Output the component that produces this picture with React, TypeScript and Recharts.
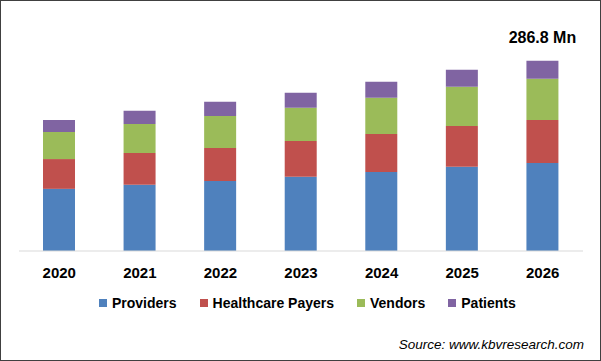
import { BarChart, Bar, XAxis, YAxis, LabelList } from "recharts";

const years = ["2020", "2021", "2022", "2023", "2024", "2025", "2026"];
const providers = [93.7, 99.8, 105.4, 111.9, 119.0, 127.0, 132.6];
const payers = [44.9, 47.9, 49.9, 54.0, 57.5, 61.5, 65.0];
const vendors = [40.8, 43.9, 48.4, 49.9, 54.4, 59.0, 62.0];
const patients = [18.1, 19.7, 21.2, 22.7, 24.2, 25.7, 27.2];
const totalLabel = "286.8 Mn";

const series = [
  { key: "providers", name: "Providers", color: "#4f81bd" },
  { key: "payers", name: "Healthcare Payers", color: "#c0504d" },
  { key: "vendors", name: "Vendors", color: "#9bbb59" },
  { key: "patients", name: "Patients", color: "#8064a2" },
];

const data = years.map((year, i) => ({
  year,
  providers: providers[i],
  payers: payers[i],
  vendors: vendors[i],
  patients: patients[i],
}));

const FONT = "'Liberation Sans', Arial, sans-serif";

function TotalLabel(props: any) {
  const { x, y, width, index } = props;
  if (index !== years.length - 1) return null;
  return (
    <text
      x={x + width / 2}
      y={y - 18}
      textAnchor="middle"
      fontFamily={FONT}
      fontWeight="bold"
      fontSize={16}
      fill="#000"
    >
      {totalLabel}
    </text>
  );
}

export default function App() {
  return (
    <div
      style={{
        position: "absolute",
        left: 0,
        top: 0,
        width: 601,
        height: 361,
        background: "#fff",
        border: "1px solid #404040",
        boxSizing: "border-box",
        fontFamily: FONT,
      }}
    >
      <div style={{ position: "absolute", left: -1, top: -1 }}>
        <BarChart
          width={601}
          height={361}
          data={data}
          margin={{ top: 52, right: 18, bottom: 80, left: 19 }}
          barSize={32}
        >
          <YAxis hide domain={[0, 300]} />
          <XAxis
            dataKey="year"
            height={30}
            tickLine={false}
            tickSize={0}
            tickMargin={16}
            axisLine={{ stroke: "#d9d9d9" }}
            tick={{ fill: "#000", fontSize: 15, fontWeight: "bold", fontFamily: FONT }}
            interval={0}
          />
          {series.map((s) => (
            <Bar
              key={s.key}
              dataKey={s.key}
              name={s.name}
              stackId="a"
              fill={s.color}
              isAnimationActive={false}
            >
              {s.key === "patients" && <LabelList content={TotalLabel} />}
            </Bar>
          ))}
        </BarChart>
      </div>
      <div
        style={{
          position: "absolute",
          left: 98,
          top: 294,
          display: "flex",
          alignItems: "center",
          gap: 23,
          fontSize: 14,
          fontWeight: "bold",
          color: "#000",
          whiteSpace: "nowrap",
        }}
      >
        {series.map((s) => (
          <div key={s.key} style={{ display: "flex", alignItems: "center", gap: 5 }}>
            <span style={{ width: 8, height: 8, background: s.color, display: "inline-block" }} />
            <span>{s.name}</span>
          </div>
        ))}
      </div>
      <div
        style={{
          position: "absolute",
          right: 16,
          top: 336,
          fontSize: 13.5,
          fontStyle: "italic",
          color: "#000",
          whiteSpace: "nowrap",
        }}
      >
        Source: www.kbvresearch.com
      </div>
    </div>
  );
}
